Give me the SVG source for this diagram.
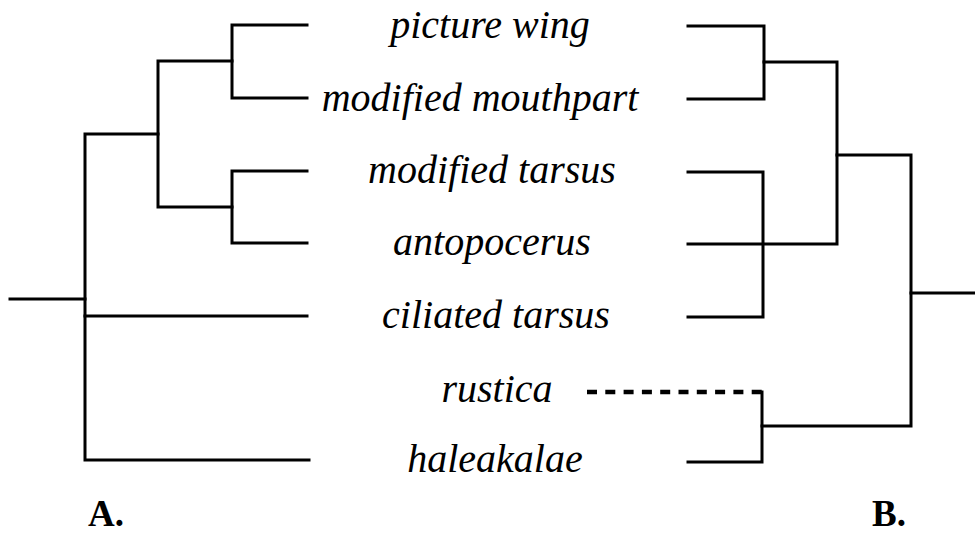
<svg xmlns="http://www.w3.org/2000/svg" width="975" height="536" viewBox="0 0 975 536">
<style>
.ln{stroke:#000;stroke-width:3;fill:none;stroke-linecap:square}
.dash{stroke:#000;stroke-width:4.5;fill:none;stroke-dasharray:10 8.3}
.lbl{font-family:"Liberation Serif","Times New Roman",serif;font-style:italic;font-size:40px;text-anchor:middle;fill:#000}
.tag{font-family:"Liberation Serif","Times New Roman",serif;font-weight:bold;font-size:37px;fill:#000}
</style>
<rect width="975" height="536" fill="#fff"/>
<g id="connectors">
<g id="treeA">
<path class="ln" d="M307,25 H232 V98 H307"/>
<path class="ln" d="M307,171 H232 V243 H307"/>
<path class="ln" d="M232,61 H158 V207 H232"/>
<path class="ln" d="M158,134 H85 V460 H309"/>
<path class="ln" d="M85,316 H307"/>
<path class="ln" d="M10,299 H85"/>
</g>
<g id="treeB">
<path class="ln" d="M688,26 H764 V99 H688"/>
<path class="ln" d="M764,62 H837 V244 H688"/>
<path class="ln" d="M688,172 H763 V317 H688"/>
<path class="ln" d="M837,155 H911 V426 H762"/>
<path class="ln" d="M911,293 H975"/>
<path class="ln" d="M762,392 V462 H688"/>
<path class="dash" d="M587,392 H762"/>
</g>
</g>
<g id="n-picture-wing"><text class="lbl" x="490" y="38">picture wing</text></g>
<g id="n-modified-mouthpart"><text class="lbl" x="480" y="111">modified mouthpart</text></g>
<g id="n-modified-tarsus"><text class="lbl" x="492" y="183">modified tarsus</text></g>
<g id="n-antopocerus"><text class="lbl" x="492" y="255">antopocerus</text></g>
<g id="n-ciliated-tarsus"><text class="lbl" x="496" y="328">ciliated tarsus</text></g>
<g id="n-rustica"><text class="lbl" x="497" y="402">rustica</text></g>
<g id="n-haleakalae"><text class="lbl" x="495" y="472">haleakalae</text></g>
<g id="label-A"><text class="tag" x="88" y="526">A.</text></g>
<g id="label-B"><text class="tag" x="872" y="526">B.</text></g>
</svg>
